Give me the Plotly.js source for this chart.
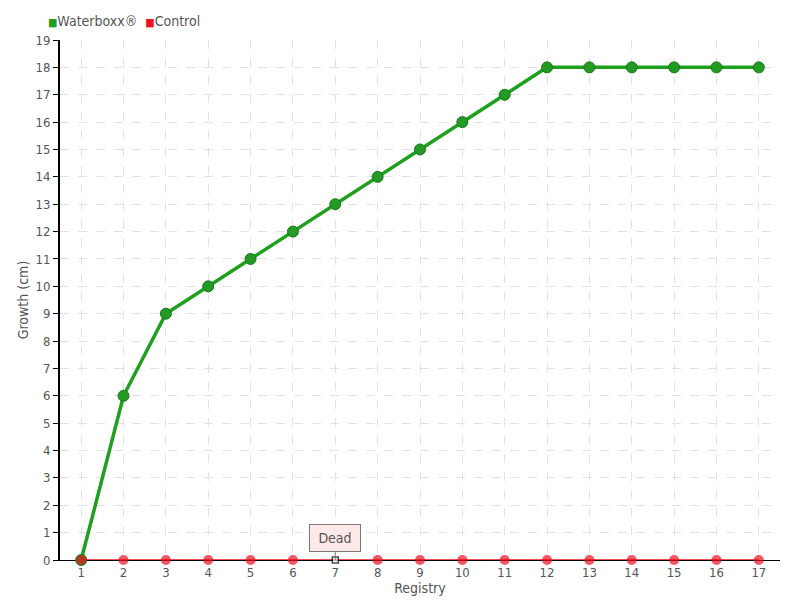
<!DOCTYPE html>
<html>
<head>
<meta charset="utf-8">
<script src="https://cdn.plot.ly/plotly-3.0.1.min.js"></script>
<style>html,body{margin:0;padding:0;background:#fff;}#chart{width:800px;height:600px;}</style>
</head>
<body>
<div id="chart"></div>
<script>
var registry = [1,2,3,4,5,6,7,8,9,10,11,12,13,14,15,16,17];
var waterboxx = [0,6,9,10,11,12,13,14,15,16,17,18,18,18,18,18,18];
var control = [0,0,0,0,0,0,0,0,0,0,0,0,0,0,0,0,0];
var deadIndex = 6;
var yTicks = [0,1,2,3,4,5,6,7,8,9,10,11,12,13,14,15,16,17,18,19];
var seriesNames = ['Waterboxx®', 'Control'];

var green = '#1ea01e';
var red = '#ee1020';
var font = 'DejaVu Sans Condensed, Liberation Sans Narrow, sans-serif';

var ctrlSymbols = control.map(function(v,i){return i===deadIndex?'square':'circle';});
var ctrlColors = control.map(function(v,i){return i===deadIndex?'#ffffff':red;});
var ctrlSizes = control.map(function(v,i){return i===deadIndex?6:10;});
var ctrlLineColors = control.map(function(v,i){return i===deadIndex?'#000000':red;});
var ctrlLineWidths = control.map(function(v,i){return i===deadIndex?1.5:0;});

var traces = [
  {x: registry, y: waterboxx, mode: 'lines+markers', name: seriesNames[0], cliponaxis: false,
   line: {color: green, width: 3.5}, marker: {color: '#239a23', size: 11, line: {color: '#187818', width: 1}}},
  {x: registry, y: control, mode: 'lines+markers', name: seriesNames[1], cliponaxis: false,
   line: {color: red, width: 1.5},
   marker: {symbol: ctrlSymbols, color: ctrlColors, size: ctrlSizes, line: {color: ctrlLineColors, width: ctrlLineWidths}}}
];

var layout = {
  width: 800, height: 600,
  margin: {l: 60, r: 20, t: 40, b: 40, autoexpand: false},
  paper_bgcolor: '#fff', plot_bgcolor: '#fff',
  font: {family: font, size: 13, color: '#555'},
  showlegend: false,
  xaxis: {
    range: [0.5, 17.5], tickvals: registry, ticktext: registry.map(String),
    showgrid: true, gridcolor: '#e2e2e2', griddash: 'dash', gridwidth: 1,
    showline: true, linecolor: '#000', linewidth: 1, ticks: '',
    zeroline: false, tickfont: {size: 13, color: '#555'}, layer: 'below traces',
    title: {text: 'Registry', standoff: 0, font: {size: 14, color: '#555'}}
  },
  yaxis: {
    range: [0, 19], tickvals: yTicks,
    showgrid: true, gridcolor: '#e2e2e2', griddash: 'dash', gridwidth: 1,
    showline: true, linecolor: '#000', linewidth: 2, ticks: 'outside', tickcolor: '#000', ticklen: 5,
    zeroline: false, tickfont: {size: 13, color: '#555'}, layer: 'below traces',
    title: {text: 'Growth (cm)', standoff: 4, font: {size: 14, color: '#555'}}
  },
  annotations: [
    {x: registry[deadIndex], y: control[deadIndex], xref: 'x', yref: 'y',
     text: 'Dead', showarrow: true, arrowhead: 0, arrowwidth: 1, arrowcolor: '#777',
     ax: 0, ay: -22, bgcolor: '#fde9e9', bordercolor: '#777', borderwidth: 1, borderpad: 4,
     width: 42, height: 18,
     font: {size: 14, color: '#555', family: font}},
    {xref: 'paper', yref: 'paper', x: -0.02, y: 1.0365, xanchor: 'left', yanchor: 'middle', showarrow: false,
     text: '<span style="color:' + green + ';font-size:11px">■</span>' + seriesNames[0] + '  <span style="color:' + red + ';font-size:11px">■</span>' + seriesNames[1],
     font: {size: 14, color: '#555', family: font}}
  ]
};

Plotly.newPlot('chart', traces, layout, {displayModeBar: false});
</script>
</body>
</html>
